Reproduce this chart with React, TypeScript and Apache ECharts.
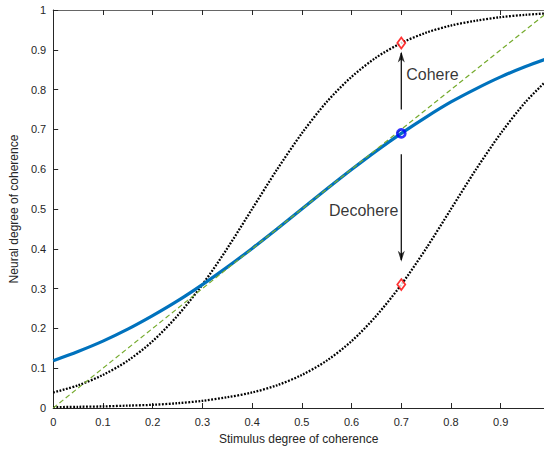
import React, { useEffect, useRef } from "react";
import * as echarts from "echarts";

const xs = [0, 0.05, 0.1, 0.15, 0.2, 0.25, 0.3, 0.35, 0.4, 0.45, 0.5, 0.55, 0.6, 0.65, 0.7, 0.75, 0.8, 0.85, 0.9, 0.95, 1.0];
const neural = [0.119, 0.142, 0.168, 0.198, 0.232, 0.269, 0.31, 0.354, 0.401, 0.45, 0.5, 0.55, 0.599, 0.646, 0.69, 0.731, 0.769, 0.802, 0.832, 0.858, 0.881];
const cohereCurve = [0.039, 0.057, 0.083, 0.119, 0.168, 0.232, 0.31, 0.401, 0.5, 0.599, 0.69, 0.769, 0.832, 0.881, 0.917, 0.943, 0.961, 0.973, 0.982, 0.988, 0.992];
const decohereCurve = [0.002, 0.003, 0.004, 0.006, 0.008, 0.012, 0.018, 0.027, 0.039, 0.057, 0.083, 0.119, 0.168, 0.232, 0.31, 0.401, 0.5, 0.599, 0.69, 0.769, 0.832];
const identity = [[0, 0], [1, 1]];
const currentPoint = [0.7, 0.69];
const targets = [[0.7, 0.917], [0.7, 0.31]];
const arrowUp = [[0.7, 0.75], [0.7, 0.892]];
const arrowDown = [[0.7, 0.6375], [0.7, 0.372]];
const arrowUpTip = [0.7, 0.896];
const arrowDownTip = [0.7, 0.3675];
const labels = [
  { name: "Cohere", pos: [0.71, 0.8375], side: "right" },
  { name: "Decohere", pos: [0.694, 0.496], side: "left" },
];
const yTicks = ["0", "0.1", "0.2", "0.3", "0.4", "0.5", "0.6", "0.7", "0.8", "0.9", "1"];

const FONT = "Liberation Sans, Arial, Helvetica, sans-serif";
const TXT = "#262626";
const UP_HEAD = "path://M0,0 L5,11 L0,8 L-5,11 Z";
const DOWN_HEAD = "path://M0,11 L5,0 L0,3 L-5,0 Z";

export default function App() {
  const ref = useRef<HTMLDivElement>(null);
  useEffect(() => {
    document.body.style.margin = "0";
    const chart = echarts.init(ref.current!, undefined, { renderer: "svg" });
    const pair = (ys: number[]) => xs.map((x, i) => [x, ys[i]]);
    const dotted = {
      type: "line",
      showSymbol: false,
      smooth: 0.3,
      lineStyle: { color: "#000", width: 2.3, type: [1.8, 1.5] },
      z: 2,
    };
    const shaft = {
      type: "line",
      showSymbol: false,
      lineStyle: { color: "#000", width: 1.2 },
      z: 5,
    };
    chart.setOption({
      animation: false,
      textStyle: { fontFamily: FONT },
      grid: { left: 52, right: 0, top: 10, bottom: 40, containLabel: false },
      xAxis: [
        {
          type: "value",
          min: 0,
          max: 0.987,
          interval: 0.1,
          name: "Stimulus degree of coherence",
          nameLocation: "middle",
          nameGap: 25,
          nameTextStyle: { color: TXT, fontSize: 12, fontFamily: FONT },
          axisLine: { lineStyle: { color: TXT, width: 1 } },
          axisTick: { inside: true, length: 5, lineStyle: { color: TXT } },
          axisLabel: { color: TXT, fontSize: 11, margin: 8, fontFamily: FONT, showMaxLabel: false },
          splitLine: { show: false },
        },
        {
          type: "value",
          position: "top",
          min: 0,
          max: 0.987,
          interval: 0.1,
          axisLine: { onZero: false, lineStyle: { color: "#666", width: 1 } },
          axisTick: { inside: true, length: 5, lineStyle: { color: TXT } },
          axisLabel: { show: false },
          splitLine: { show: false },
        },
      ],
      yAxis: {
        type: "value",
        min: 0,
        max: 1,
        interval: 0.1,
        name: "Neural degree of coherence",
        nameLocation: "middle",
        nameGap: 32,
        nameTextStyle: { color: TXT, fontSize: 12, fontFamily: FONT },
        axisLine: { show: true, lineStyle: { color: TXT, width: 1 } },
        axisTick: { show: true, inside: true, length: 5, lineStyle: { color: TXT } },
        axisLabel: {
          color: TXT,
          fontSize: 11,
          margin: 7,
          fontFamily: FONT,
          formatter: (v: number) => yTicks[Math.round(v * 10)] ?? "",
        },
        splitLine: { show: false },
      },
      series: [
        { ...dotted, name: "cohere", data: pair(cohereCurve) },
        { ...dotted, name: "decohere", data: pair(decohereCurve) },
        {
          type: "line",
          name: "neural",
          showSymbol: false,
          smooth: 0.3,
          data: pair(neural),
          lineStyle: { color: "#0072BD", width: 3.2 },
          z: 3,
        },
        {
          type: "line",
          name: "identity",
          showSymbol: false,
          data: identity,
          lineStyle: { color: "#77AC30", width: 1.2, type: [5, 3] },
          z: 4,
        },
        { ...shaft, name: "arrowUp", data: arrowUp },
        { ...shaft, name: "arrowDown", data: arrowDown },
        {
          type: "scatter",
          name: "upHead",
          symbol: UP_HEAD,
          symbolSize: [7, 11],
          symbolOffset: [0, "50%"],
          data: [arrowUpTip],
          itemStyle: { color: "#000" },
          z: 5,
        },
        {
          type: "scatter",
          name: "downHead",
          symbol: DOWN_HEAD,
          symbolSize: [7, 11],
          symbolOffset: [0, "-50%"],
          data: [arrowDownTip],
          itemStyle: { color: "#000" },
          z: 5,
        },
        {
          type: "scatter",
          name: "targets",
          symbol: "diamond",
          symbolSize: [8, 11],
          data: targets,
          itemStyle: { color: "#fff", borderColor: "#ff0000", borderWidth: 1.8 },
          z: 6,
        },
        {
          type: "scatter",
          name: "current",
          symbol: "circle",
          symbolSize: 8,
          data: [currentPoint],
          itemStyle: { color: "rgba(0,0,0,0)", borderColor: "#0000ff", borderWidth: 2.8 },
          z: 6,
        },
        {
          type: "scatter",
          name: "text",
          symbolSize: 0,
          silent: true,
          data: labels.map((l) => ({
            value: l.pos,
            label: {
              show: true,
              position: l.side,
              distance: 0,
              formatter: l.name,
              color: "#000",
              fontSize: 16,
              fontFamily: FONT,
            },
          })),
          z: 7,
        },
      ],
    });
    return () => chart.dispose();
  }, []);
  return <div ref={ref} style={{ width: 544, height: 450 }} />;
}
